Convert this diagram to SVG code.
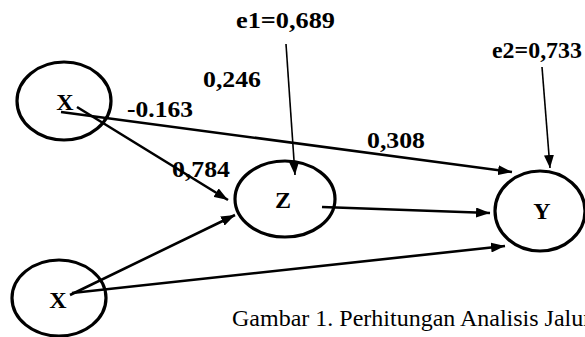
<svg xmlns="http://www.w3.org/2000/svg" width="585" height="337" viewBox="0 0 585 337">
<defs>
<marker id="ah" viewBox="0 0 14 10" refX="14" refY="5" markerWidth="14" markerHeight="10" markerUnits="userSpaceOnUse" orient="auto"><path d="M0,0 L14,5 L0,10 z" fill="#000"/></marker>
<marker id="ahs" viewBox="0 0 13 10" refX="13" refY="5" markerWidth="13" markerHeight="10" markerUnits="userSpaceOnUse" orient="auto"><path d="M0,0 L13,5 L0,10 z" fill="#000"/></marker>
<style>
.node ellipse{fill:#fff;stroke:#000;stroke-width:3.2}
.lt{font-family:"Liberation Serif","Times New Roman",serif;font-weight:bold;font-size:24px;fill:#000;text-anchor:middle}
.lbl{font-family:"Liberation Serif","Times New Roman",serif;font-weight:bold;font-size:23px;fill:#000}
.cap{font-family:"Liberation Serif","Times New Roman",serif;font-size:24px;fill:#000}
.c{stroke:#000;stroke-width:2.6;fill:none;marker-end:url(#ah)}
.e{stroke:#000;stroke-width:1.6;fill:none;marker-end:url(#ahs)}
</style>
</defs>
<rect width="585" height="337" fill="#fff"/>
<g id="node-x1" class="node"><ellipse cx="64" cy="101" rx="47" ry="39"/><text class="lt" x="65" y="110">X</text></g>
<g id="node-x2" class="node"><ellipse cx="59" cy="298" rx="47" ry="38"/><text class="lt" x="58" y="308">X</text></g>
<g id="node-z" class="node"><ellipse cx="285" cy="199" rx="50" ry="38"/><text class="lt" x="283" y="208">Z</text></g>
<g id="node-y" class="node"><ellipse cx="540" cy="211" rx="45" ry="40"/><text class="lt" x="542" y="219">Y</text></g>
<g id="connectors">
<line class="c" x1="61" y1="112" x2="512" y2="172"/>
<line class="c" x1="77" y1="107" x2="228" y2="200"/>
<line class="c" x1="70" y1="295" x2="235" y2="215"/>
<line class="c" x1="72" y1="293" x2="505" y2="246"/>
<line class="c" x1="322" y1="207" x2="490" y2="213"/>
<line class="e" x1="286" y1="44" x2="295" y2="175"/>
<line class="e" x1="542" y1="67" x2="550" y2="168"/>
</g>
<g id="labels">
<text class="lbl" x="236" y="28" textLength="99" lengthAdjust="spacingAndGlyphs">e1=0,689</text>
<text class="lbl" x="492" y="58" textLength="90" lengthAdjust="spacingAndGlyphs">e2=0,733</text>
<text class="lbl" x="203" y="87" textLength="58" lengthAdjust="spacingAndGlyphs">0,246</text>
<text class="lbl" x="127" y="117" textLength="66" lengthAdjust="spacingAndGlyphs">-0.163</text>
<text class="lbl" x="172" y="177" textLength="58" lengthAdjust="spacingAndGlyphs">0,784</text>
<text class="lbl" x="367" y="148" textLength="58" lengthAdjust="spacingAndGlyphs">0,308</text>
</g>
<text class="cap" x="232" y="326">Gambar 1. Perhitungan Analisis Jalur</text>
</svg>
